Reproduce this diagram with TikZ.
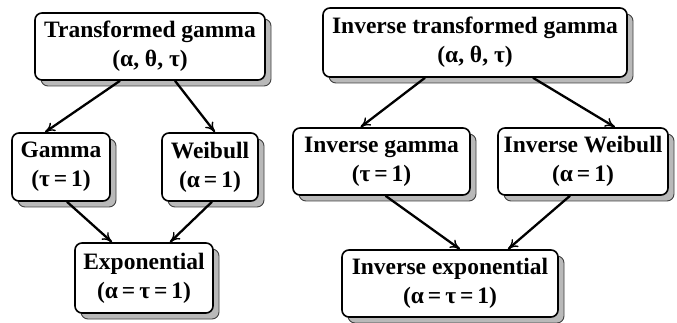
\documentclass[tikz,border=0pt]{standalone}
\usepackage{fontspec}
\setmainfont{Liberation Serif}
\usepackage{tikz}
\usetikzlibrary{shapes,shadows,calc}
\usetikzlibrary{arrows.meta, positioning}
\tikzset{distb/.style={rectangle,rounded corners=7pt,draw=black,line width=1.6pt,fill=white,
  align=center,inner sep=0pt,font=\fontsize{23.5}{29}\selectfont\bfseries,
  drop shadow={shadow xshift=6pt,shadow yshift=-6pt,fill=gray!55,draw=black!75,line width=0.9pt,opacity=1}}}
\tikzset{arr/.style={-{To[length=10pt,width=10pt,line width=1.4pt]},line width=2.3pt}}

\begin{document}
\begin{tikzpicture}[x=1pt,y=-1pt]
\useasboundingbox (0,0) rectangle (677,323);
% left family
\node [distb,minimum width=230pt,minimum height=67pt] at (150,46.5) (tg) {Transformed gamma\\(α, θ, τ)};
\node [distb,minimum width=98pt,minimum height=68pt] at (61,167) (gam) {Gamma\\(τ\,=\,1)};
\node [distb,minimum width=96pt,minimum height=68pt] at (210,167) (wei) {Weibull\\(α\,=\,1)};
\node [distb,minimum width=138pt,minimum height=70pt] at (144,278) (expo) {Exponential\\(α\,=\,τ\,=\,1)};

\draw [arr] ([xshift=-30pt]tg.south) -- ([xshift=-16pt]gam.north);
\draw [arr] ([xshift=25pt]tg.south) -- ([xshift=5pt]wei.north);
\draw [arr] ([xshift=6pt]gam.south) -- ([xshift=-32pt]expo.north);
\draw [arr] ([xshift=2pt]wei.south) -- ([xshift=26pt]expo.north);

% right family
\node [distb,minimum width=304pt,minimum height=69pt] at (475,42.5) (itg) {Inverse transformed gamma\\(α, θ, τ)};
\node [distb,minimum width=177pt,minimum height=67pt] at (381.5,161.5) (igam) {Inverse gamma\\(τ\,=\,1)};
\node [distb,minimum width=170pt,minimum height=67pt] at (583,161.5) (iwei) {Inverse Weibull\\(α\,=\,1)};
\node [distb,minimum width=216pt,minimum height=67pt] at (450,283.5) (iexpo) {Inverse exponential\\(α\,=\,τ\,=\,1)};

\draw [arr] ([xshift=-50pt]itg.south) -- ([xshift=-21pt]igam.north);
\draw [arr] ([xshift=58pt]itg.south) -- ([xshift=32pt]iwei.north);
\draw [arr] ([xshift=4pt]igam.south) -- ([xshift=10pt]iexpo.north);
\draw [arr] ([xshift=-13pt]iwei.south) -- ([xshift=58pt]iexpo.north);
\end{tikzpicture}
\end{document}
